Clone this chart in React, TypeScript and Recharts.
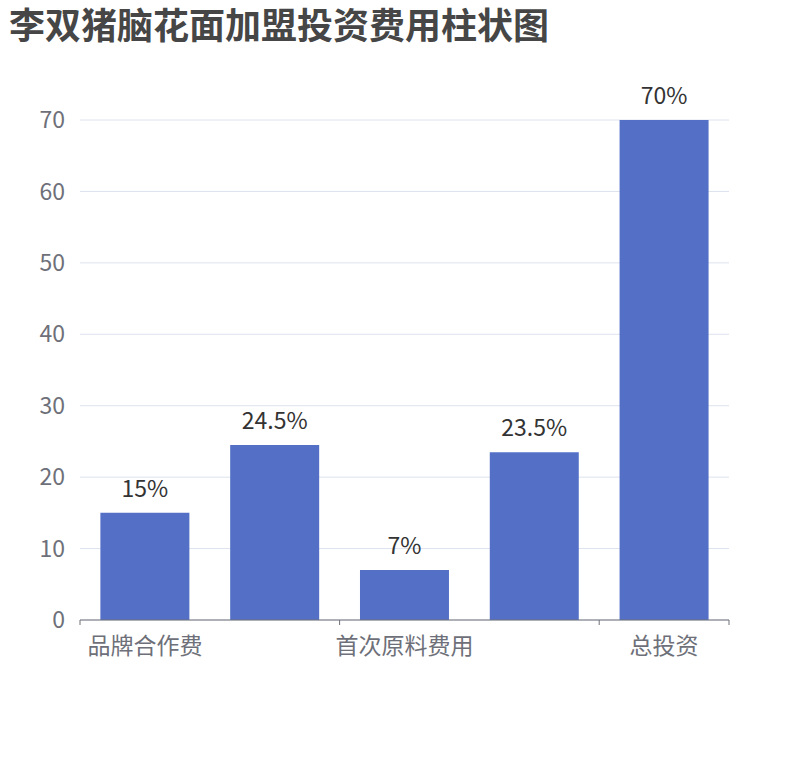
import { BarChart, Bar, XAxis, YAxis, CartesianGrid, LabelList } from "recharts";

// Chart data
const categories: string[] = ["品牌合作费", "装修设备费", "首次原料费用", "店面租金", "总投资"];
const costValues: number[] = [15, 24.5, 7, 23.5, 70];
const yTicks: number[] = [0, 10, 20, 30, 40, 50, 60, 70];

const data = categories.map((name, i) => ({ name, value: costValues[i] }));

const FONT = '"Noto Sans CJK SC", "Noto Sans", sans-serif';
const AXIS_COLOR = "#6E7079";

// X axis tick: ticks sit on category boundaries, labels on every other category
const CategoryTick = (props: any) => {
  const { x = 0, y = 0, payload, index = 0 } = props;
  const half = payload?.offset ?? 0;
  const last = index === categories.length - 1;
  const showLabel = index % 2 === 0;
  return (
    <g>
      {showLabel && (
        <line x1={x - half} x2={x - half} y1={y} y2={y + 5} stroke={AXIS_COLOR} strokeWidth={1} />
      )}
      {last && <line x1={x + half} x2={x + half} y1={y} y2={y + 5} stroke={AXIS_COLOR} strokeWidth={1} />}
      {showLabel && (
        <text x={x} y={y + 34} textAnchor="middle" fill={AXIS_COLOR} fontSize={23} fontFamily={FONT}>
          {payload.value}
        </text>
      )}
    </g>
  );
};

const App = () => {
  return (
    <div style={{ position: "relative", width: 810, height: 760, fontFamily: FONT }}>
      <style>{`body { margin: 0; }`}</style>
      <div
        style={{
          position: "absolute",
          left: 9,
          top: 4,
          fontSize: 36,
          lineHeight: "38px",
          fontWeight: "bold",
          color: "#464646",
          fontFamily: FONT,
          whiteSpace: "nowrap",
        }}
      >
        李双猪脑花面加盟投资费用柱状图
      </div>
      <BarChart
        width={810}
        height={760}
        data={data}
        margin={{ top: 120, right: 81, left: 0, bottom: 100 }}
        barCategoryGap="15.7%"
      >
        <CartesianGrid vertical={false} stroke="#DCE2EE" />
        <XAxis
          dataKey="name"
          interval={0}
          height={40}
          tickSize={0}
          tickMargin={0}
          tickLine={false}
          axisLine={{ stroke: AXIS_COLOR }}
          tick={<CategoryTick />}
        />
        <YAxis
          width={80}
          domain={[0, 70]}
          ticks={yTicks}
          axisLine={false}
          tickLine={false}
          tickMargin={9}
          tick={{ fill: AXIS_COLOR, fontSize: 23, fontFamily: FONT }}
        />
        <Bar dataKey="value" fill="#5470C6" isAnimationActive={false}>
          <LabelList
            dataKey="value"
            position="top"
            offset={16}
            fill="#333"
            fontSize={23}
            fontFamily={FONT}
            formatter={(v: any) => `${v}%`}
          />
        </Bar>
      </BarChart>
    </div>
  );
};

export default App;
